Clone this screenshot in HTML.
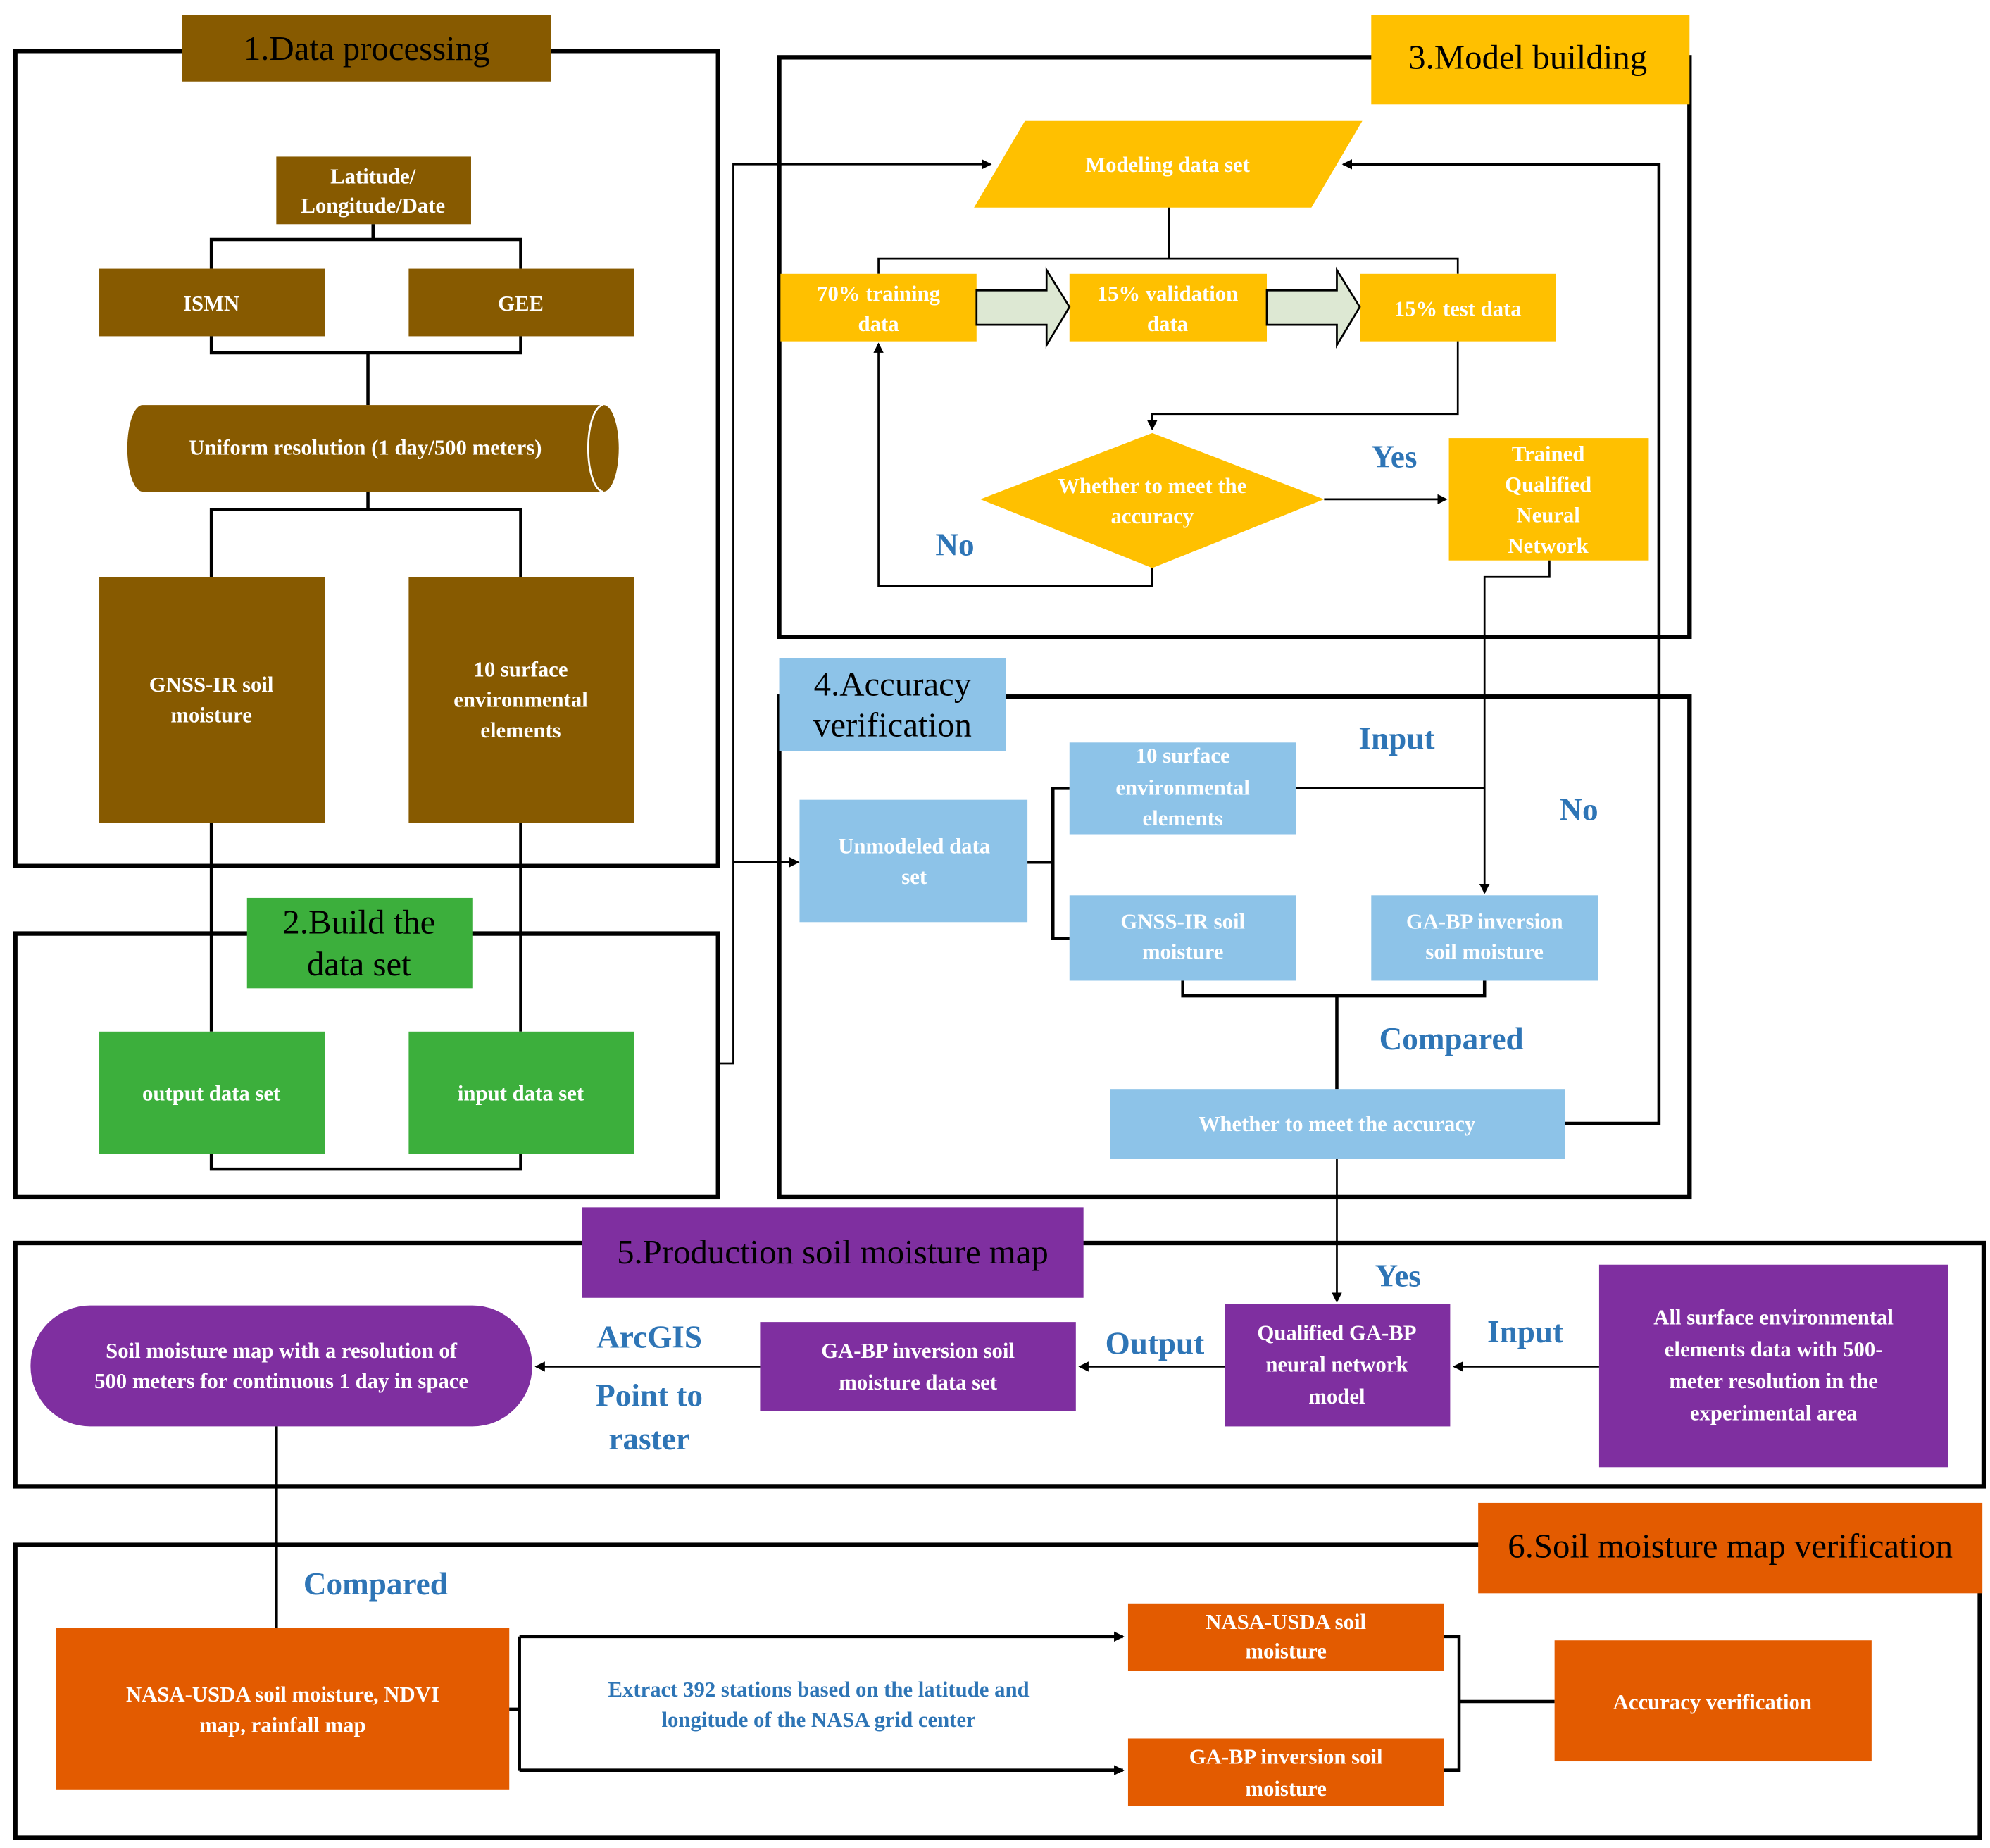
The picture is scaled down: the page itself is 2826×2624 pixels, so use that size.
<!DOCTYPE html>
<html><head><meta charset="utf-8"><style>
html,body{margin:0;padding:0;background:#fff;}
svg{display:block;}
text{font-family:"Liberation Serif",serif;}
.w{fill:#fff;font-weight:bold;font-size:17px;text-anchor:middle;}
.t{fill:#000;font-size:27px;text-anchor:middle;}
.b{fill:#2E75B6;font-weight:bold;font-size:25px;text-anchor:middle;}
.sec{fill:none;stroke:#000;stroke-width:3.5;}
.ln{fill:none;stroke:#000;stroke-width:2.5;}
.th{fill:none;stroke:#000;stroke-width:1.5;}
</style></head><body>
<svg width="2826" height="2624" viewBox="0 0 1563 1451" preserveAspectRatio="none" xmlns="http://www.w3.org/2000/svg">
<defs><marker id="a" markerWidth="8" markerHeight="8" refX="7" refY="4" orient="auto" markerUnits="userSpaceOnUse"><path d="M0,0 L8,4 L0,8 z" fill="#000"/></marker></defs>

<!-- Section 1 -->
<rect class="sec" x="12" y="40" width="552" height="640"/>
<rect x="143" y="12" width="290" height="52" fill="#875A00"/>
<text class="t" x="288" y="47">1.Data processing</text>
<rect x="217" y="123" width="153" height="53" fill="#875A00"/>
<text class="w" x="293" y="144">Latitude/</text><text class="w" x="293" y="167">Longitude/Date</text>
<path class="ln" d="M293,176 V188 M166,211 V188 H409 V211"/>
<rect x="78" y="211" width="177" height="53" fill="#875A00"/><text class="w" x="166" y="244">ISMN</text>
<rect x="321" y="211" width="177" height="53" fill="#875A00"/><text class="w" x="409" y="244">GEE</text>
<path class="ln" d="M166,264 V277 H409 V264"/>
<path class="ln" d="M289,277 V318"/>
<path d="M112,318 H474 A12,34 0 0 1 474,386 H112 A12,34 0 0 1 112,318 Z" fill="#875A00"/>
<path d="M474,318 A12,34 0 0 0 474,386" fill="none" stroke="#fff" stroke-width="1.5"/>
<text class="w" x="287" y="357">Uniform resolution (1 day/500 meters)</text>
<path class="ln" d="M289,386 V400 M166,453 V400 H409 V453"/>
<rect x="78" y="453" width="177" height="193" fill="#875A00"/>
<text class="w" x="166" y="543">GNSS-IR soil</text><text class="w" x="166" y="567">moisture</text>
<rect x="321" y="453" width="177" height="193" fill="#875A00"/>
<text class="w" x="409" y="531">10 surface</text><text class="w" x="409" y="555">environmental</text><text class="w" x="409" y="579">elements</text>
<path class="ln" d="M166,646 V810 M409,646 V810"/>

<!-- Section 2 -->
<rect class="sec" x="12" y="733" width="552" height="207"/>
<rect x="194" y="705" width="177" height="71" fill="#3CAF3C"/>
<text class="t" x="282" y="733">2.Build the</text><text class="t" x="282" y="766">data set</text>
<rect x="78" y="810" width="177" height="96" fill="#3CAF3C"/><text class="w" x="166" y="864">output data set</text>
<rect x="321" y="810" width="177" height="96" fill="#3CAF3C"/><text class="w" x="409" y="864">input data set</text>
<path class="ln" d="M166,906 V918 H409 V906"/>
<path class="th" d="M564,835 H576 V129 H778" marker-end="url(#a)"/>
<path class="th" d="M576,677 H627" marker-end="url(#a)"/>

<!-- Section 3 -->
<rect class="sec" x="612" y="45" width="715" height="455"/>
<rect x="1077" y="12" width="250" height="70" fill="#FFC000"/>
<text class="t" x="1200" y="54">3.Model building</text>
<polygon points="805,95 1070,95 1030,163 765,163" fill="#FFC000"/>
<text class="w" x="917" y="135">Modeling data set</text>
<path class="th" d="M918,163 V203 M690,215 V203 H1145 V215"/>
<rect x="613" y="215" width="154" height="53" fill="#FFC000"/>
<text class="w" x="690" y="236">70% training</text><text class="w" x="690" y="260">data</text>
<rect x="840" y="215" width="155" height="53" fill="#FFC000"/>
<text class="w" x="917" y="236">15% validation</text><text class="w" x="917" y="260">data</text>
<rect x="1068" y="215" width="154" height="53" fill="#FFC000"/>
<text class="w" x="1145" y="248">15%  test data</text>
<polygon points="767,228 822,228 822,212 840,241 822,271 822,255 767,255" fill="#DDE8D3" stroke="#000" stroke-width="1.5"/>
<polygon points="995,228 1050,228 1050,212 1068,241 1050,271 1050,255 995,255" fill="#DDE8D3" stroke="#000" stroke-width="1.5"/>
<path class="th" d="M1145,268 V325 H905 V337" marker-end="url(#a)"/>
<polygon points="905,340 1040,392 905,446 770,392" fill="#FFC000"/>
<text class="w" x="905" y="387">Whether to meet the</text><text class="w" x="905" y="411">accuracy</text>
<path class="th" d="M1040,392 H1136" marker-end="url(#a)"/>
<text class="b" x="1095" y="367">Yes</text>
<rect x="1138" y="344" width="157" height="96" fill="#FFC000"/>
<text class="w" x="1216" y="362">Trained</text><text class="w" x="1216" y="386">Qualified</text><text class="w" x="1216" y="410">Neural</text><text class="w" x="1216" y="434">Network</text>
<path class="th" d="M905,446 V460 H690 V270" marker-end="url(#a)"/>
<text class="b" x="750" y="436">No</text>
<path class="th" d="M1217,440 V453 H1166 V701" marker-end="url(#a)"/>
<path class="ln" d="M1229,882 H1303 V129 H1055" marker-end="url(#a)"/>

<!-- Section 4 -->
<rect class="sec" x="612" y="547" width="715" height="393"/>
<rect x="612" y="517" width="178" height="73" fill="#8DC3E8"/>
<text class="t" x="701" y="546">4.Accuracy</text><text class="t" x="701" y="578">verification</text>
<rect x="628" y="628" width="179" height="96" fill="#8DC3E8"/>
<text class="w" x="718" y="670">Unmodeled data</text><text class="w" x="718" y="694">set</text>
<path class="ln" d="M807,677 H827 M840,619 H827 V737 H840"/>
<rect x="840" y="583" width="178" height="72" fill="#8DC3E8"/>
<text class="w" x="929" y="599">10 surface</text><text class="w" x="929" y="624">environmental</text><text class="w" x="929" y="648">elements</text>
<rect x="840" y="703" width="178" height="67" fill="#8DC3E8"/>
<text class="w" x="929" y="729">GNSS-IR soil</text><text class="w" x="929" y="753">moisture</text>
<rect x="1077" y="703" width="178" height="67" fill="#8DC3E8"/>
<text class="w" x="1166" y="729">GA-BP inversion</text><text class="w" x="1166" y="753">soil moisture</text>
<path class="th" d="M1018,619 H1166"/>
<text class="b" x="1097" y="588">Input</text>
<text class="b" x="1240" y="644">No</text>
<path class="ln" d="M929,770 V782 H1166 V770 M1050,782 V855"/>
<text class="b" x="1140" y="824">Compared</text>
<rect x="872" y="855" width="357" height="55" fill="#8DC3E8"/>
<text class="w" x="1050" y="888">Whether to meet the accuracy</text>
<path class="th" d="M1050,910 V1022" marker-end="url(#a)"/>
<text class="b" x="1098" y="1010">Yes</text>

<!-- Section 5 -->
<rect class="sec" x="12" y="976" width="1546" height="191"/>
<rect x="457" y="948" width="394" height="71" fill="#7F2FA0"/>
<text class="t" x="654" y="992">5.Production soil moisture map</text>
<rect x="962" y="1024" width="177" height="96" fill="#7F2FA0"/>
<text class="w" x="1050" y="1052">Qualified GA-BP</text><text class="w" x="1050" y="1077">neural network</text><text class="w" x="1050" y="1102">model</text>
<rect x="1256" y="993" width="274" height="159" fill="#7F2FA0"/>
<text class="w" x="1393" y="1040">All surface environmental</text><text class="w" x="1393" y="1065">elements data with 500-</text><text class="w" x="1393" y="1090">meter resolution in the</text><text class="w" x="1393" y="1115">experimental area</text>
<path class="th" d="M1256,1073 H1142" marker-end="url(#a)"/>
<text class="b" x="1198" y="1054">Input</text>
<rect x="597" y="1038" width="248" height="70" fill="#7F2FA0"/>
<text class="w" x="721" y="1066">GA-BP inversion soil</text><text class="w" x="721" y="1091">moisture data set</text>
<path class="th" d="M962,1073 H848" marker-end="url(#a)"/>
<text class="b" x="907" y="1063">Output</text>
<rect x="24" y="1025" width="394" height="95" rx="47" fill="#7F2FA0"/>
<text class="w" x="221" y="1066">Soil moisture map with a resolution of</text><text class="w" x="221" y="1090">500 meters for continuous 1 day in space</text>
<path class="th" d="M597,1073 H421" marker-end="url(#a)"/>
<text class="b" x="510" y="1058">ArcGIS</text><text class="b" x="510" y="1104">Point to</text><text class="b" x="510" y="1138">raster</text>
<path class="ln" d="M217,1120 V1278"/>

<!-- Section 6 -->
<rect class="sec" x="12" y="1213" width="1543" height="230"/>
<rect x="1161" y="1180" width="396" height="71" fill="#E35B00"/>
<text class="t" x="1359" y="1223">6.Soil moisture map verification</text>
<text class="b" x="295" y="1252">Compared</text>
<rect x="44" y="1278" width="356" height="127" fill="#E35B00"/>
<text class="w" x="222" y="1336">NASA-USDA soil moisture, NDVI</text><text class="w" x="222" y="1360">map, rainfall map</text>
<path class="ln" d="M400,1342 H408 M408,1285 V1390"/>
<path class="ln" d="M408,1285 H882" marker-end="url(#a)"/>
<path class="ln" d="M408,1390 H882" marker-end="url(#a)"/>
<text x="643" y="1332" style="fill:#2E75B6;font-weight:bold;font-size:17px;text-anchor:middle">Extract 392 stations based on the latitude and</text>
<text x="643" y="1356" style="fill:#2E75B6;font-weight:bold;font-size:17px;text-anchor:middle">longitude of the NASA grid center</text>
<rect x="886" y="1259" width="248" height="53" fill="#E35B00"/>
<text class="w" x="1010" y="1279">NASA-USDA soil</text><text class="w" x="1010" y="1302">moisture</text>
<rect x="886" y="1365" width="248" height="53" fill="#E35B00"/>
<text class="w" x="1010" y="1385">GA-BP inversion soil</text><text class="w" x="1010" y="1410">moisture</text>
<path class="ln" d="M1134,1285 H1146 V1390 H1134 M1146,1336 H1221"/>
<rect x="1221" y="1288" width="249" height="95" fill="#E35B00"/>
<text class="w" x="1345" y="1342">Accuracy verification</text>
</svg>
</body></html>
